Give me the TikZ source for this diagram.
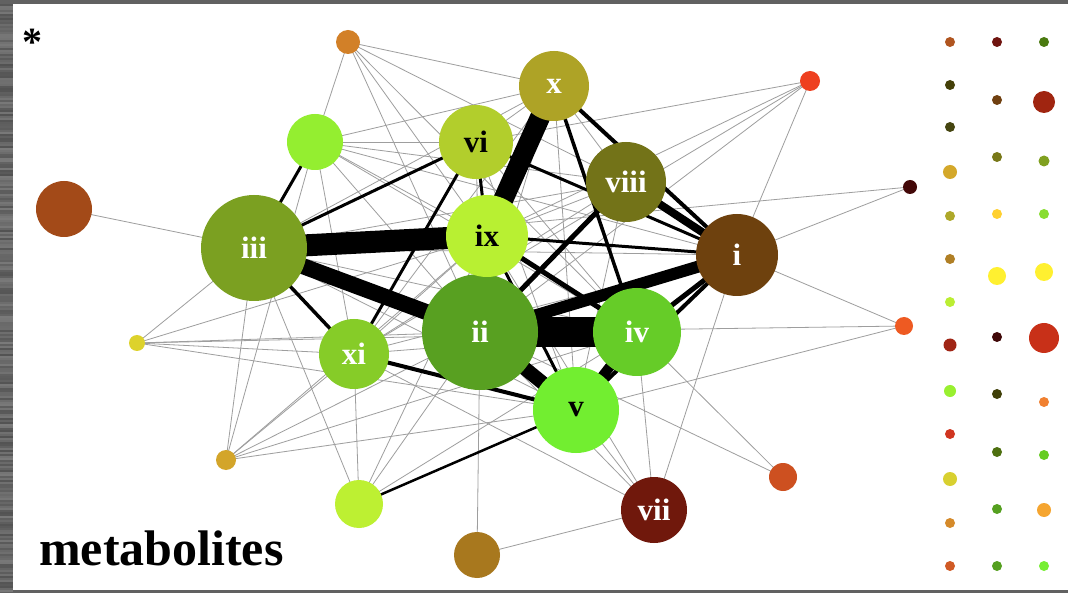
\documentclass[tikz,border=0pt]{standalone}
\usepackage{fontspec}
\setmainfont{Liberation Serif}
\pgfdeclarelayer{frame}
\pgfdeclarelayer{edges}
\pgfsetlayers{frame,edges,main}
% vertex colours
\definecolor{cI}{HTML}{6E410E}
\definecolor{cII}{HTML}{58A021}
\definecolor{cIII}{HTML}{7BA021}
\definecolor{cIV}{HTML}{66CC28}
\definecolor{cV}{HTML}{72EE30}
\definecolor{cVI}{HTML}{B2CE2C}
\definecolor{cVII}{HTML}{70180C}
\definecolor{cVIII}{HTML}{737318}
\definecolor{cIX}{HTML}{B8F032}
\definecolor{cX}{HTML}{AEA326}
\definecolor{cXI}{HTML}{86CC28}
\definecolor{cLG}{HTML}{94EE30}
\definecolor{cTO}{HTML}{D28028}
\definecolor{cLB}{HTML}{A34A18}
\definecolor{cRTR}{HTML}{EE4020}
\definecolor{cDB}{HTML}{430808}
\definecolor{cORR}{HTML}{EE5A22}
\definecolor{cORB}{HTML}{CD5020}
\definecolor{cYSL}{HTML}{DDD22C}
\definecolor{cGS}{HTML}{D3A52A}
\definecolor{cYGB}{HTML}{BDF032}
\definecolor{cBB}{HTML}{A8781E}
\begin{document}
\begin{tikzpicture}[x=1pt,y=-1pt,
  vert/.style 2 args={circle,fill=#2,minimum size=2*#1,inner sep=0pt,outer sep=0pt},
  wlab/.style={text=white,font=\fontsize{31}{31}\selectfont\bfseries},
  blab/.style={text=black,font=\fontsize{31}{31}\selectfont\bfseries},
  thin/.style={draw=black!38,line width=0.8pt},
  heavy/.style={draw=black,line width=#1},
]
\useasboundingbox (0,0) rectangle (1068,593);
% frame and canvas
\begin{pgfonlayer}{frame}
\fill[black!62] (0,0) rectangle (1068,593);
\pgfmathsetseed{7}
\foreach \k in {4,6,...,590}{
  \pgfmathsetmacro{\g}{52+16*rnd}
  \fill[black!\g] (0,\k) rectangle (13,\k+2);
}
\fill[white] (13,4) rectangle (1068,590);
\end{pgfonlayer}

% labelled vertices
\node[vert={53}{cIII},wlab] (n3) at (254,248) {iii};
\node[vert={58}{cII},wlab]  (n2) at (480,332) {ii};
\node[vert={41}{cIX},blab]  (n9) at (487,236) {ix};
\node[vert={37}{cVI},blab]  (n6) at (476,142) {vi};
\node[vert={35}{cX},wlab]   (n10) at (554,86) {x};
\node[vert={40}{cVIII},wlab] (n8) at (626,182) {viii};
\node[vert={41}{cI},wlab]   (n1) at (737,255) {i};
\node[vert={44}{cIV},wlab]  (n4) at (637,332) {iv};
\node[vert={43}{cV},blab]   (n5) at (576,410) {v};
\node[vert={35}{cXI},wlab]  (n11) at (354,354) {xi};
\node[vert={33}{cVII},wlab] (n7) at (654,510) {vii};
% unlabelled vertices
\node[vert={28}{cLG}]  (lg)  at (315,142) {};
\node[vert={12}{cTO}]  (to)  at (348,42) {};
\node[vert={28}{cLB}]  (lb)  at (64,209) {};
\node[vert={10}{cRTR}] (rtr) at (810,81) {};
\node[vert={7}{cDB}]   (db)  at (910,187) {};
\node[vert={9}{cORR}]  (orr) at (904,326) {};
\node[vert={14}{cORB}] (orb) at (783,477) {};
\node[vert={8}{cYSL}]  (ysl) at (137,343) {};
\node[vert={10}{cGS}]  (gs)  at (226,460) {};
\node[vert={24}{cYGB}] (ygb) at (359,504) {};
\node[vert={23}{cBB}]  (bb)  at (477,555) {};

\begin{pgfonlayer}{edges}
% light connections
\foreach \a/\b in {lb/n3,
  to/lg,to/n10,to/n8,to/n9,to/n2,to/n4,
  lg/n10,lg/n6,lg/n9,lg/n8,lg/n1,lg/n2,lg/n4,lg/n11,lg/gs,
  ysl/n3,ysl/n11,ysl/n2,ysl/n4,ysl/n5,ysl/n9,
  gs/n3,gs/n11,gs/n2,gs/n9,gs/n4,gs/n5,
  ygb/n3,ygb/n11,ygb/n2,ygb/n9,ygb/n4,
  bb/n2,bb/n7,
  n7/n5,n7/n4,n7/n1,n7/n11,n7/n2,n7/n9,
  rtr/n1,rtr/n6,rtr/n9,rtr/n2,rtr/n11,
  db/n1,db/n3,
  orr/n1,orr/n2,orr/n5,
  orb/n4,orb/n2,
  n3/n10,n3/n8,n3/n1,n3/n4,n3/n5,
  n6/n10,n6/n4,n6/n5,n10/n8,
  n11/n9,n11/n4,n11/n1,n11/n8,
  n5/n8,n9/n8,n2/n6,n2/n10,n5/n10,n11/n10}
  \draw[thin] (\a.center) -- (\b.center);
% heavy connections
\foreach \a/\b/\w in {n3/n9/22,n3/n2/16,n10/n9/20,n2/n4/30,n2/n1/12,
  n2/n5/14,n4/n5/10,n8/n1/8,n4/n1/5,n5/n1/4,n10/n1/4,n10/n4/3.5,
  n6/n1/3,n9/n1/3,n9/n4/5,n8/n2/5,n6/n11/3,n3/n6/3,lg/n3/3,
  n3/n11/3.5,n11/n5/4,ygb/n5/2.5,n6/n9/3,n9/n5/3}
  \draw[heavy=\w pt] (\a.center) -- (\b.center);
\end{pgfonlayer}

% legend of dots
\foreach \yy/\cc/\rr in {42/B05520/5,85/444008/5,127/454510/5,172/D4A82A/7,
  216/AEA82A/5,259/B07F25/5,302/BBEE33/5,345/A02515/6.5,391/99F030/6,
  434/D03520/5,479/D8D030/7,523/D58A2A/5,566/D05A25/5}
  {\definecolor{dotc}{HTML}{\cc}\fill[dotc] (950,\yy) circle[radius=\rr];}
\foreach \yy/\cc/\rr in {42/701510/5,100/704010/5,157/787818/5,214/FFD030/5,
  276/FFF030/9,337/400808/5,394/404008/5,452/4E7010/5,509/55A020/5,566/55A020/5}
  {\definecolor{dotc}{HTML}{\cc}\fill[dotc] (997,\yy) circle[radius=\rr];}
\foreach \yy/\cc/\rr in {42/4A7A10/5,102/A02510/11,161/80A020/5.5,214/88DD30/5,
  272/FFF030/9,338/C83018/15,402/F08030/5,455/66CC22/5,510/F5A530/7,566/77EE33/5}
  {\definecolor{dotc}{HTML}{\cc}\fill[dotc] (1044,\yy) circle[radius=\rr];}

% texts
\node[font=\fontsize{40}{40}\selectfont\bfseries,anchor=center] (star) at (33,42) {*};
\node[font=\fontsize{50}{50}\selectfont\bfseries,anchor=base west,inner sep=0pt] (title) at (39,565) {metabolites};
\end{tikzpicture}
\end{document}
